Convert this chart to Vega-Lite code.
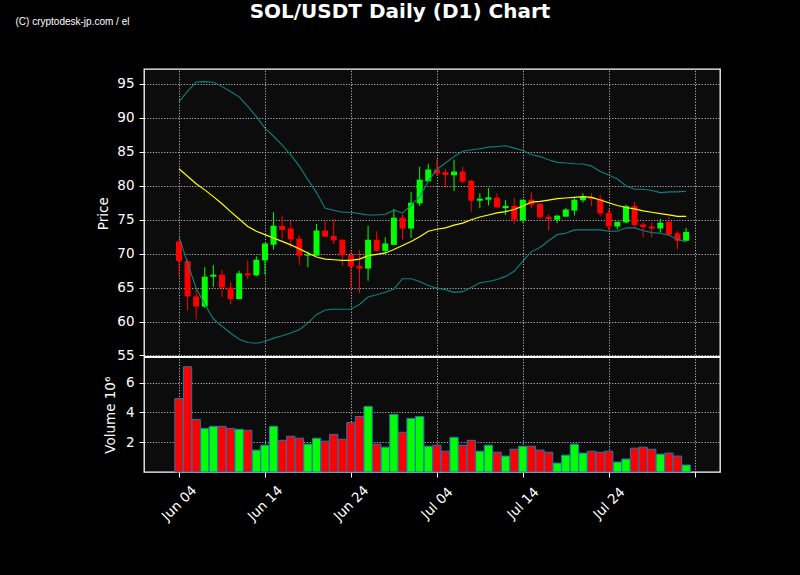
{
  "$schema": "https://vega.github.io/schema/vega-lite/v6.json",
  "width": 576,
  "height": 403,
  "autosize": {"type": "none"},
  "padding": {"left": 144, "top": 69, "right": 80, "bottom": 103},
  "background": "#000000",
  "title": {"text": "SOL/USDT Daily (D1) Chart", "font": "DejaVu Sans", "fontSize": 20, "fontWeight": "bold", "color": "#ffffff", "anchor": "middle", "frame": "group", "dx": -32, "dy": 6, "offset": 0},
  "config": {
    "view": {"fill": "#0c0c0c", "stroke": "#ffffff", "strokeWidth": 1.3},
    "axis": {"labelColor": "#ffffff", "tickColor": "#ffffff", "titleColor": "#ffffff", "labelFont": "DejaVu Sans", "titleFont": "DejaVu Sans", "labelFontSize": 13.5, "titleFontSize": 13.5, "titleFontWeight": "normal", "gridColor": "#b4b4b4", "gridDash": [1.2, 1.6], "gridWidth": 1, "domain": false, "tickSize": 5, "labelPadding": 5}
  },
  "data": {"values": [
    {"date": "2024-06-04", "open": 71.8, "high": 72.0, "low": 66.8, "close": 68.9, "volume": 4.93, "ma": 82.5, "upper": 92.4, "lower": 72.5},
    {"date": "2024-06-05", "open": 68.9, "high": 69.2, "low": 61.6, "close": 63.7, "volume": 7.07, "ma": 81.4, "upper": 93.9, "lower": 68.6},
    {"date": "2024-06-06", "open": 63.7, "high": 64.7, "low": 60.3, "close": 62.2, "volume": 3.53, "ma": 80.3, "upper": 95.3, "lower": 64.9},
    {"date": "2024-06-07", "open": 62.2, "high": 68.0, "low": 62.0, "close": 66.6, "volume": 2.93, "ma": 79.4, "upper": 95.35, "lower": 62.5},
    {"date": "2024-06-08", "open": 66.6, "high": 68.3, "low": 65.1, "close": 66.9, "volume": 3.07, "ma": 78.4, "upper": 95.25, "lower": 60.4},
    {"date": "2024-06-09", "open": 66.9, "high": 67.6, "low": 63.6, "close": 65.0, "volume": 3.07, "ma": 77.35, "upper": 94.65, "lower": 59.3},
    {"date": "2024-06-10", "open": 65.0, "high": 65.8, "low": 62.5, "close": 63.3, "volume": 2.93, "ma": 76.2, "upper": 93.9, "lower": 58.3},
    {"date": "2024-06-11", "open": 63.3, "high": 67.5, "low": 63.3, "close": 67.1, "volume": 2.87, "ma": 75.1, "upper": 93.1, "lower": 57.4},
    {"date": "2024-06-12", "open": 67.1, "high": 69.0, "low": 66.2, "close": 66.8, "volume": 2.8, "ma": 74.0, "upper": 91.7, "lower": 56.9},
    {"date": "2024-06-13", "open": 66.8, "high": 69.6, "low": 66.7, "close": 69.1, "volume": 1.47, "ma": 73.3, "upper": 90.2, "lower": 56.8},
    {"date": "2024-06-14", "open": 69.0, "high": 71.5, "low": 66.9, "close": 71.5, "volume": 1.8, "ma": 72.8, "upper": 88.5, "lower": 57.05},
    {"date": "2024-06-15", "open": 71.3, "high": 76.1, "low": 70.6, "close": 74.1, "volume": 3.07, "ma": 72.3, "upper": 87.3, "lower": 57.55},
    {"date": "2024-06-16", "open": 74.1, "high": 75.6, "low": 72.2, "close": 73.5, "volume": 2.13, "ma": 71.8, "upper": 86.0, "lower": 57.9},
    {"date": "2024-06-17", "open": 73.7, "high": 74.8, "low": 70.9, "close": 72.1, "volume": 2.4, "ma": 71.3, "upper": 84.55, "lower": 58.3},
    {"date": "2024-06-18", "open": 72.2, "high": 72.7, "low": 68.3, "close": 69.7, "volume": 2.27, "ma": 70.7, "upper": 82.9, "lower": 58.8},
    {"date": "2024-06-19", "open": 69.7, "high": 70.3, "low": 68.0, "close": 69.9, "volume": 1.87, "ma": 70.1, "upper": 80.9, "lower": 59.8},
    {"date": "2024-06-20", "open": 69.7, "high": 74.4, "low": 69.7, "close": 73.4, "volume": 2.27, "ma": 69.5, "upper": 79.0, "lower": 61.0},
    {"date": "2024-06-21", "open": 73.4, "high": 74.8, "low": 72.4, "close": 72.5, "volume": 2.07, "ma": 69.2, "upper": 76.7, "lower": 61.7},
    {"date": "2024-06-22", "open": 72.6, "high": 75.1, "low": 71.4, "close": 71.95, "volume": 2.53, "ma": 69.1, "upper": 76.4, "lower": 61.8},
    {"date": "2024-06-23", "open": 72.05, "high": 72.1, "low": 68.2, "close": 69.75, "volume": 2.2, "ma": 69.0, "upper": 76.1, "lower": 61.8},
    {"date": "2024-06-24", "open": 69.8, "high": 70.5, "low": 64.8, "close": 68.1, "volume": 3.33, "ma": 69.0, "upper": 76.1, "lower": 61.8},
    {"date": "2024-06-25", "open": 68.2, "high": 70.5, "low": 64.2, "close": 67.8, "volume": 3.73, "ma": 69.2, "upper": 75.9, "lower": 62.5},
    {"date": "2024-06-26", "open": 67.8, "high": 74.1, "low": 66.0, "close": 72.05, "volume": 4.4, "ma": 69.7, "upper": 75.7, "lower": 63.6},
    {"date": "2024-06-27", "open": 72.05, "high": 73.3, "low": 70.4, "close": 70.4, "volume": 1.87, "ma": 69.9, "upper": 75.7, "lower": 63.95},
    {"date": "2024-06-28", "open": 70.4, "high": 72.4, "low": 69.8, "close": 71.5, "volume": 1.67, "ma": 70.1, "upper": 75.8, "lower": 64.3},
    {"date": "2024-06-29", "open": 71.3, "high": 76.6, "low": 71.3, "close": 75.3, "volume": 3.87, "ma": 70.6, "upper": 76.4, "lower": 64.8},
    {"date": "2024-06-30", "open": 75.3, "high": 75.8, "low": 72.05, "close": 73.7, "volume": 2.67, "ma": 71.2, "upper": 76.0, "lower": 66.3},
    {"date": "2024-07-01", "open": 73.7, "high": 79.1, "low": 72.3, "close": 77.5, "volume": 3.6, "ma": 71.8, "upper": 77.1, "lower": 66.3},
    {"date": "2024-07-02", "open": 77.4, "high": 82.8, "low": 77.0, "close": 80.9, "volume": 3.73, "ma": 72.5, "upper": 78.4, "lower": 65.9},
    {"date": "2024-07-03", "open": 80.65, "high": 83.2, "low": 80.65, "close": 82.4, "volume": 1.73, "ma": 73.3, "upper": 80.65, "lower": 65.3},
    {"date": "2024-07-04", "open": 82.4, "high": 84.0, "low": 81.4, "close": 81.8, "volume": 1.8, "ma": 73.6, "upper": 82.4, "lower": 64.9},
    {"date": "2024-07-05", "open": 82.0, "high": 82.5, "low": 79.7, "close": 81.6, "volume": 1.4, "ma": 73.8, "upper": 83.35, "lower": 64.7},
    {"date": "2024-07-06", "open": 81.55, "high": 83.85, "low": 79.2, "close": 82.1, "volume": 2.33, "ma": 74.2, "upper": 84.3, "lower": 64.3},
    {"date": "2024-07-07", "open": 82.1, "high": 82.8, "low": 80.35, "close": 80.6, "volume": 1.8, "ma": 74.5, "upper": 85.1, "lower": 64.4},
    {"date": "2024-07-08", "open": 80.75, "high": 80.9, "low": 76.2, "close": 77.8, "volume": 2.13, "ma": 75.0, "upper": 85.3, "lower": 65.0},
    {"date": "2024-07-09", "open": 77.8, "high": 78.9, "low": 76.7, "close": 78.1, "volume": 1.4, "ma": 75.4, "upper": 85.45, "lower": 65.7},
    {"date": "2024-07-10", "open": 77.95, "high": 79.7, "low": 77.1, "close": 78.3, "volume": 1.8, "ma": 75.7, "upper": 85.7, "lower": 65.9},
    {"date": "2024-07-11", "open": 78.25, "high": 78.9, "low": 76.8, "close": 76.8, "volume": 1.33, "ma": 76.0, "upper": 85.8, "lower": 66.2},
    {"date": "2024-07-12", "open": 76.7, "high": 77.9, "low": 75.7, "close": 77.05, "volume": 1.07, "ma": 76.2, "upper": 85.9, "lower": 66.65},
    {"date": "2024-07-13", "open": 77.05, "high": 78.2, "low": 74.3, "close": 75.0, "volume": 1.53, "ma": 76.5, "upper": 85.55, "lower": 67.4},
    {"date": "2024-07-14", "open": 74.9, "high": 77.95, "low": 74.6, "close": 77.95, "volume": 1.73, "ma": 77.0, "upper": 85.2, "lower": 68.9},
    {"date": "2024-07-15", "open": 77.95, "high": 79.1, "low": 76.7, "close": 77.2, "volume": 1.73, "ma": 77.6, "upper": 84.6, "lower": 70.3},
    {"date": "2024-07-16", "open": 77.35, "high": 77.4, "low": 75.1, "close": 75.35, "volume": 1.47, "ma": 77.7, "upper": 84.3, "lower": 70.9},
    {"date": "2024-07-17", "open": 75.4, "high": 75.8, "low": 73.4, "close": 75.05, "volume": 1.33, "ma": 77.9, "upper": 83.85, "lower": 71.9},
    {"date": "2024-07-18", "open": 75.0, "high": 75.7, "low": 74.5, "close": 75.6, "volume": 0.6, "ma": 78.1, "upper": 83.45, "lower": 72.8},
    {"date": "2024-07-19", "open": 75.45, "high": 76.7, "low": 75.4, "close": 76.5, "volume": 1.13, "ma": 78.2, "upper": 83.35, "lower": 73.0},
    {"date": "2024-07-20", "open": 76.35, "high": 78.3, "low": 75.6, "close": 77.95, "volume": 1.87, "ma": 78.3, "upper": 83.25, "lower": 73.5},
    {"date": "2024-07-21", "open": 77.85, "high": 78.9, "low": 77.5, "close": 78.35, "volume": 1.27, "ma": 78.4, "upper": 83.2, "lower": 73.5},
    {"date": "2024-07-22", "open": 78.35, "high": 78.9, "low": 77.0, "close": 78.05, "volume": 1.4, "ma": 78.3, "upper": 82.9, "lower": 73.5},
    {"date": "2024-07-23", "open": 78.05, "high": 78.7, "low": 75.5, "close": 75.9, "volume": 1.33, "ma": 77.9, "upper": 82.1, "lower": 73.5},
    {"date": "2024-07-24", "open": 76.0, "high": 76.6, "low": 73.4, "close": 74.0, "volume": 1.4, "ma": 77.5, "upper": 81.6, "lower": 73.3},
    {"date": "2024-07-25", "open": 74.0, "high": 74.7, "low": 73.6, "close": 74.7, "volume": 0.67, "ma": 77.1, "upper": 81.0, "lower": 73.3},
    {"date": "2024-07-26", "open": 74.6, "high": 77.2, "low": 74.5, "close": 77.0, "volume": 0.87, "ma": 76.8, "upper": 80.0, "lower": 73.8},
    {"date": "2024-07-27", "open": 77.0, "high": 77.6, "low": 73.8, "close": 74.2, "volume": 1.6, "ma": 76.6, "upper": 79.5, "lower": 73.8},
    {"date": "2024-07-28", "open": 74.3, "high": 74.6, "low": 72.4, "close": 73.9, "volume": 1.67, "ma": 76.3, "upper": 79.5, "lower": 73.4},
    {"date": "2024-07-29", "open": 74.0, "high": 74.6, "low": 72.4, "close": 73.7, "volume": 1.53, "ma": 76.1, "upper": 79.3, "lower": 73.1},
    {"date": "2024-07-30", "open": 73.7, "high": 75.1, "low": 73.1, "close": 74.55, "volume": 1.2, "ma": 75.9, "upper": 79.0, "lower": 73.0},
    {"date": "2024-07-31", "open": 74.7, "high": 75.4, "low": 72.6, "close": 72.8, "volume": 1.27, "ma": 75.7, "upper": 79.1, "lower": 72.7},
    {"date": "2024-08-01", "open": 73.0, "high": 73.3, "low": 70.7, "close": 71.9, "volume": 1.07, "ma": 75.5, "upper": 79.1, "lower": 72.1},
    {"date": "2024-08-02", "open": 71.9, "high": 73.8, "low": 71.9, "close": 73.2, "volume": 0.47, "ma": 75.5, "upper": 79.2, "lower": 71.75}
  ]},
  "layer": [
    {
      "layer": [
        {
          "mark": {"type": "rule", "strokeWidth": 1},
          "encoding": {
            "x": {"field": "date", "type": "temporal", "scale": {"type": "utc", "domain": [1717107552000, 1722897216000], "nice": false, "padding": 0},
              "axis": {"orient": "top", "labels": false, "ticks": false, "domain": false, "grid": false, "title": "(C) cryptodesk-jp.com / el", "titleX": -129, "titleY": -48, "titleAlign": "left", "titleBaseline": "middle", "titleAngle": 0, "titleFont": "Liberation Sans", "titleFontSize": 10, "titleFontWeight": "normal", "titleColor": "#ffffff"}},
            "y": {"field": "low", "type": "quantitative", "scale": {"domain": [54.71, 97.21], "range": [288.4, 0], "zero": false, "nice": false},
              "axis": {"orient": "left", "title": "Price", "values": [55, 60, 65, 70, 75, 80, 85, 90, 95], "grid": true, "titlePadding": 6}},
            "y2": {"field": "high"},
            "color": {"condition": {"test": "datum.close >= datum.open", "value": "#00ff00"}, "value": "#ff0000"}
          }
        },
        {
          "mark": {"type": "bar", "width": 6},
          "encoding": {
            "x": {"field": "date", "type": "temporal"},
            "y": {"field": "open", "type": "quantitative"},
            "y2": {"field": "close"},
            "color": {"condition": {"test": "datum.close >= datum.open", "value": "#00ff00"}, "value": "#ff0000"}
          }
        },
        {
          "mark": {"type": "line", "color": "#ffff00", "strokeWidth": 1.2},
          "encoding": {"x": {"field": "date", "type": "temporal"}, "y": {"field": "ma", "type": "quantitative"}}
        },
        {
          "mark": {"type": "line", "color": "#0d8080", "strokeWidth": 1.1},
          "encoding": {"x": {"field": "date", "type": "temporal"}, "y": {"field": "upper", "type": "quantitative"}}
        },
        {
          "mark": {"type": "line", "color": "#0d8080", "strokeWidth": 1.1},
          "encoding": {"x": {"field": "date", "type": "temporal"}, "y": {"field": "lower", "type": "quantitative"}}
        }
      ]
    },
    {
      "layer": [
        {
          "mark": {"type": "bar", "width": 8.3, "stroke": "#1f77b4", "strokeWidth": 1},
          "encoding": {
            "x": {"field": "date", "type": "temporal", "axis": null},
            "y": {"field": "volume", "type": "quantitative", "scale": {"domain": [0, 7.7], "range": [403, 288.4], "nice": false, "zero": false},
              "axis": {"orient": "left", "title": "Volume  10⁶", "values": [2, 4, 6], "format": "d", "grid": true, "titlePadding": 8}},
            "color": {"condition": {"test": "datum.close >= datum.open", "value": "#00ff00"}, "value": "#ff0000"}
          }
        },
        {
          "mark": {"type": "rule", "color": "#ffffff", "strokeWidth": 1.3},
          "encoding": {"y": {"datum": 7.7}}
        }
      ]
    },
    {
      "mark": {"type": "rule", "opacity": 0},
      "encoding": {
        "x": {"field": "date", "type": "temporal",
          "axis": {"orient": "bottom", "title": null, "grid": true, "values": [
            {"year": 2024, "month": 6, "date": 4, "utc": true},
            {"year": 2024, "month": 6, "date": 14, "utc": true},
            {"year": 2024, "month": 6, "date": 24, "utc": true},
            {"year": 2024, "month": 7, "date": 4, "utc": true},
            {"year": 2024, "month": 7, "date": 14, "utc": true},
            {"year": 2024, "month": 7, "date": 24, "utc": true},
            {"year": 2024, "month": 8, "date": 3, "utc": true}
          ], "labelExpr": "utcdate(datum.value) == 3 ? '' : utcFormat(datum.value, '%b %d')", "labelAngle": -45, "labelAlign": "center", "labelBaseline": "middle", "labelPadding": 26, "labelFlush": false, "labelOverlap": false}}
      }
    }
  ],
  "resolve": {"scale": {"y": "independent"}, "axis": {"x": "independent", "y": "independent"}}
}
